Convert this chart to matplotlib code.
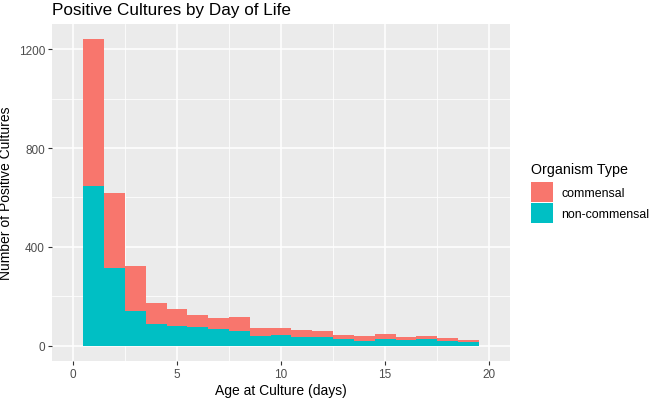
import matplotlib
matplotlib.use("Agg")
import matplotlib.pyplot as plt
import numpy as np

plt.rcParams['font.family'] = ['Liberation Sans', 'DejaVu Sans']

days = list(range(1, 20))
total = [1240, 618, 322, 174, 147, 123, 112, 116, 73, 73, 62, 58, 42, 38, 47, 35, 39, 31, 24]
non_commensal = [645, 315, 140, 86, 79, 75, 69, 59, 39, 44, 35, 35, 26, 19, 28, 24, 27, 19, 15]
commensal = [t - n for t, n in zip(total, non_commensal)]

x_ticks = [0, 5, 10, 15, 20]
y_ticks = [0, 400, 800, 1200]

col_comm = '#F8766D'
col_non = '#00BFC4'

fig = plt.figure(figsize=(6.5, 4.02), dpi=100)
ax = fig.add_axes([52/650, 40/402, (510-52)/650, (362-25)/402])
ax.set_facecolor('#EBEBEB')

ax.bar(days, non_commensal, width=1.0, color=col_non, linewidth=0, label='non-commensal', zorder=3)
ax.bar(days, commensal, width=1.0, bottom=non_commensal, color=col_comm, linewidth=0, label='commensal', zorder=3)

ax.set_xlim(-1.0, 21.0)
ax.set_ylim(-62, 1302)
ax.set_xticks(x_ticks)
ax.set_yticks(y_ticks)
ax.set_xticks([2.5, 7.5, 12.5, 17.5], minor=True)
ax.set_yticks([200, 600, 1000], minor=True)
ax.grid(which='major', color='white', linewidth=1.1, zorder=0)
ax.grid(which='minor', color='white', linewidth=0.55, zorder=0)
ax.set_axisbelow(True)
for s in ax.spines.values():
    s.set_visible(False)
ax.tick_params(which='major', length=3, width=0.8, color='#333333', labelcolor='#4D4D4D', labelsize=8.5, pad=2)
ax.tick_params(which='minor', length=0)

ax.set_xlabel('Age at Culture (days)', fontsize=10, color='black', labelpad=2)
ax.set_ylabel('Number of Positive Cultures', fontsize=10, color='black', labelpad=4)
fig.text(52/650, 1 - 10/402, 'Positive Cultures by Day of Life', fontsize=12.3, va='center', ha='left')

fig.text(531/650, 1 - 170/402, 'Organism Type', fontsize=10.3, va='center', ha='left')
h, l = ax.get_legend_handles_labels()
leg = fig.legend([h[1], h[0]], [l[1], l[0]], loc='upper left',
                 bbox_to_anchor=(531/650, 1 - 183/402), frameon=False, fontsize=8.9,
                 handlelength=1.75, handleheight=2.1, handletextpad=0.7,
                 labelspacing=0.1, borderaxespad=0, borderpad=0)

fig.savefig('out.png', dpi=100)
